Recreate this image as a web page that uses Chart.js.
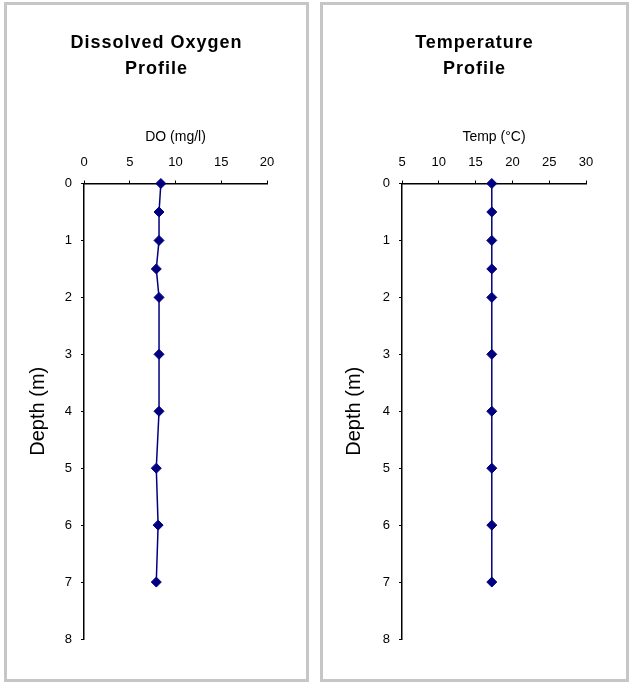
<!DOCTYPE html>
<html>
<head>
<meta charset="utf-8">
<script src="https://cdn.jsdelivr.net/npm/chart.js@4"></script>
<style>
    body { margin: 0; background: #fff; }
    .panel { position: absolute; top: 2px; height: 680px; border: 3px solid #c6c6c6; box-sizing: border-box; background: #fff; }
    #panel-do { left: 4px; width: 305px; }
    #panel-temp { left: 320px; width: 309px; }
    canvas { display: block; }
</style>
</head>
<body>
<div class="panel" id="panel-do"><canvas id="do-chart" width="299" height="674"></canvas></div>
<div class="panel" id="panel-temp"><canvas id="temp-chart" width="303" height="674"></canvas></div>
<script>
const depths = [0, 0.5, 1, 1.5, 2, 3, 4, 5, 6, 7];
const doValues = [8.4, 8.2, 8.2, 7.9, 8.2, 8.2, 8.2, 7.9, 8.1, 7.9];
const tempValues = [17.2, 17.2, 17.2, 17.2, 17.2, 17.2, 17.2, 17.2, 17.2, 17.2];

const doTitle = ["Dissolved Oxygen", "Profile"];
const tempTitle = ["Temperature", "Profile"];
const doAxisLabel = "DO (mg/l)";
const tempAxisLabel = "Temp (\u00B0C)";
const depthLabel = "Depth (m)";

const fontFamily = "'Liberation Sans', Arial, sans-serif";
const markColor = "#000080";

// spread the chart title letters a little, like the original sheet
const titleSpacing = {
    id: "titleSpacing",
    beforeDraw(chart) {
        const block = chart.titleBlock;
        if (!block || block._spaced) return;
        const originalDraw = block.draw;
        block.draw = function () {
            this.ctx.save();
            this.ctx.letterSpacing = "1px";
            originalDraw.apply(this, arguments);
            this.ctx.restore();
        };
        block._spaced = true;
    },
};

function buildProfile(canvasId, values, titleLines, xLabel, xMin, xMax, yAxisWidth, rightSpace) {
    const points = depths.map((depth, i) => ({ x: values[i], y: depth }));

    return new Chart(document.getElementById(canvasId), {
        type: "scatter",
        data: {
            datasets: [{
                data: points,
                showLine: true,
                borderColor: markColor,
                borderWidth: 1.5,
                backgroundColor: markColor,
                pointStyle: "rectRot",
                pointRadius: 5,
                pointBorderWidth: 1,
                pointBorderColor: markColor,
                clip: false,
            }],
        },
        options: {
            responsive: false,
            animation: false,
            layout: {
                padding: { top: 0, bottom: 40, left: 0, right: 0 },
            },
            plugins: {
                legend: { display: false },
                tooltip: { enabled: false },
                title: {
                    display: true,
                    text: titleLines,
                    color: "#000",
                    font: { family: fontFamily, size: 18, weight: "bold", lineHeight: "26px" },
                    padding: { top: 25, bottom: 42.6 },
                },
            },
            scales: {
                x: {
                    type: "linear",
                    position: "top",
                    min: xMin,
                    max: xMax,
                    ticks: {
                        stepSize: 5,
                        color: "#000",
                        padding: 10,
                        font: { family: fontFamily, size: 13 },
                    },
                    grid: { drawOnChartArea: false, drawTicks: true, tickLength: 3, color: "#000" },
                    border: { display: true, color: "#000", width: 1.5 },
                    title: {
                        display: true,
                        text: xLabel,
                        color: "#000",
                        font: { family: fontFamily, size: 14 },
                        padding: { top: 4, bottom: 4 },
                    },
                    afterFit: (scale) => { scale.height = 58.9; },
                },
                y: {
                    type: "linear",
                    position: "left",
                    reverse: true,
                    min: 0,
                    max: 8,
                    ticks: {
                        stepSize: 1,
                        color: "#000",
                        padding: 9,
                        font: { family: fontFamily, size: 13 },
                    },
                    grid: { drawOnChartArea: false, drawTicks: true, tickLength: 3, color: "#000" },
                    border: { display: true, color: "#000", width: 1.5 },
                    title: {
                        display: true,
                        text: depthLabel,
                        color: "#000",
                        font: { family: fontFamily, size: 20 },
                        padding: { top: 19, bottom: 0 },
                    },
                    afterFit: (scale) => { scale.width = yAxisWidth; },
                },
                // empty right-hand space so the title stays centred on the whole panel
                spacer: {
                    type: "linear",
                    position: "right",
                    ticks: { display: false },
                    grid: { display: false },
                    border: { display: false },
                    afterFit: (scale) => { scale.width = rightSpace; },
                },
            },
        },
        plugins: [titleSpacing],
    });
}

buildProfile("do-chart", doValues, doTitle, doAxisLabel, 0, 20, 77, 39);
buildProfile("temp-chart", tempValues, tempTitle, tempAxisLabel, 5, 30, 79, 40);
</script>
</body>
</html>
